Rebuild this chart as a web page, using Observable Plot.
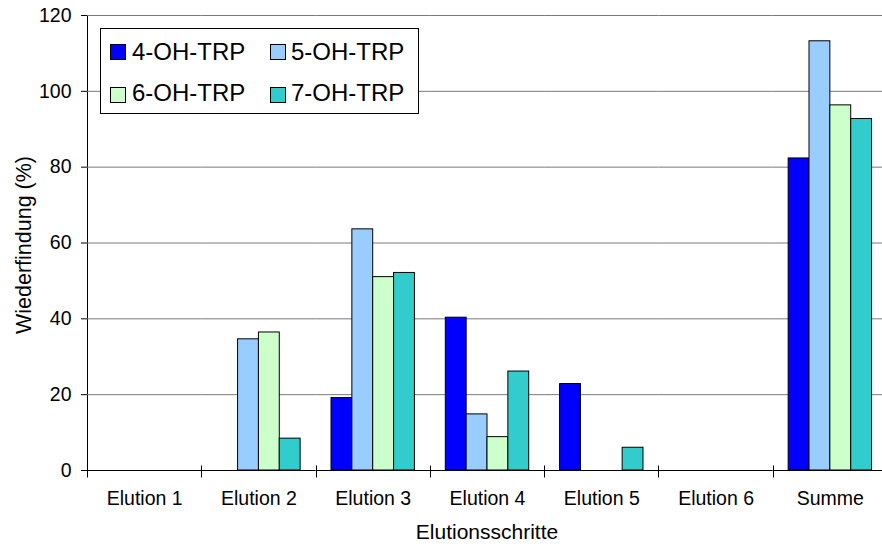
<!DOCTYPE html>
<html><head><meta charset="utf-8">
<script src="https://cdn.jsdelivr.net/npm/d3@7"></script>
<script src="https://cdn.jsdelivr.net/npm/@observablehq/plot@0.6"></script>
<style>
html,body{margin:0;padding:0;background:#fff;overflow:hidden;}
#wrap{position:relative;width:882px;height:546px;overflow:hidden;}
#wrap svg{max-width:none !important;}
#legend{position:absolute;left:100px;top:28px;width:317px;height:84px;border:1px solid #000;background:#fff;font-family:"Liberation Sans",Arial,sans-serif;font-size:24px;line-height:24px;color:#000;}
.sw{position:absolute;width:14px;height:14px;border:1px solid #000;box-sizing:content-box;}
.lab{position:absolute;white-space:nowrap;}
</style></head><body><div id="wrap"></div>
<script>
const categories = ["Elution 1","Elution 2","Elution 3","Elution 4","Elution 5","Elution 6","Summe"];
const series = ["4-OH-TRP","5-OH-TRP","6-OH-TRP","7-OH-TRP"];
const colors = ["#0000FF","#99CCFF","#CCFFCC","#33CCCC"];
const v4OH = [0, 0, 19.1, 40.3, 22.8, 0, 82.3];
const v5OH = [0, 34.6, 63.6, 14.8, 0, 0, 113.2];
const v6OH = [0, 36.4, 51.0, 8.8, 0, 0, 96.3];
const v7OH = [0, 8.4, 52.1, 26.1, 6.0, 0, 92.7];
const yTicks = [0, 20, 40, 60, 80, 100, 120];
const gridTicks = [20, 40, 60, 80, 100, 120];
const yTitle = "Wiederfindung (%)";
const xTitle = "Elutionsschritte";

const valuesBySeries = [v4OH, v5OH, v6OH, v7OH];
const rows = [];
categories.forEach((c, i) => series.forEach((s, j) => rows.push({cat: c, series: s, value: valuesBySeries[j][i]})));

const W = 888, H = 546;
const plot = Plot.plot({
  width: W, height: H,
  marginLeft: 87, marginRight: 1, marginTop: 15, marginBottom: 76,
  style: {fontFamily: "'Liberation Sans', Arial, sans-serif", fontSize: "19.5px", color: "#000", background: "#fff", overflow: "visible", maxWidth: "none"},
  facet: {data: rows, x: "cat", marginBottom: 0, marginTop: 0, marginLeft: 0, marginRight: 0},
  fx: {domain: categories, padding: 0, round: false, axis: "bottom", label: null, tickSize: 0, tickPadding: 21},
  x: {domain: series, paddingInner: 0, paddingOuter: 0.74, round: false, axis: null},
  y: {domain: [0, 120], ticks: yTicks, tickFormat: d => String(d), tickSize: 6, tickPadding: 10, label: null, line: true},
  color: {domain: series, range: colors},
  marks: [
    Plot.ruleY(gridTicks, {stroke: "#7a7a7a", strokeWidth: 1}),
    Plot.barY(rows, {filter: d => d.value > 0, x: "series", y: "value", fill: "series", stroke: "#000", strokeWidth: 1, insetLeft: 0, insetRight: 0}),
    Plot.ruleY([0], {stroke: "#000", strokeWidth: 1})
  ]
});
const wrap = document.getElementById("wrap");
wrap.appendChild(plot);

// category boundary ticks on the x axis, placed with the fx scale
const svg = d3.select(plot);
const fx = plot.scale("fx");
const y = plot.scale("y");
const y0 = y.apply(0) + 0.5;
const gT = svg.append("g").attr("stroke", "#000").attr("stroke-width", 1);
categories.forEach(c => {
  const x = Math.round(fx.apply(c)) + 0.5;
  gT.append("line").attr("x1", x).attr("x2", x).attr("y1", y0 - 5).attr("y2", y0 + 7);
});
// axis titles
svg.append("text").attr("x", 487).attr("y", 539).attr("text-anchor", "middle")
  .attr("font-size", "21px").attr("fill", "#000").text(xTitle);
svg.append("text").attr("transform", `translate(31,245) rotate(-90)`)
  .attr("text-anchor", "middle").attr("font-size", "21.5px").attr("fill", "#000").text(yTitle);

// legend (HTML overlay inside the plot area)
const leg = document.createElement("div");
leg.id = "legend";
const swPos = [[9, 15], [169, 15], [9, 57.5], [169, 57.5]];
const labPos = [[31, 10.7], [190, 10.7], [31, 52.4], [190, 52.4]];
series.forEach((s, i) => {
  const sw = document.createElement("span");
  sw.className = "sw";
  sw.style.background = colors[i];
  sw.style.left = swPos[i][0] + "px";
  sw.style.top = swPos[i][1] + "px";
  leg.appendChild(sw);
  const lab = document.createElement("span");
  lab.className = "lab";
  lab.textContent = s;
  lab.style.left = labPos[i][0] + "px";
  lab.style.top = labPos[i][1] + "px";
  leg.appendChild(lab);
});
wrap.appendChild(leg);
</script></body></html>
